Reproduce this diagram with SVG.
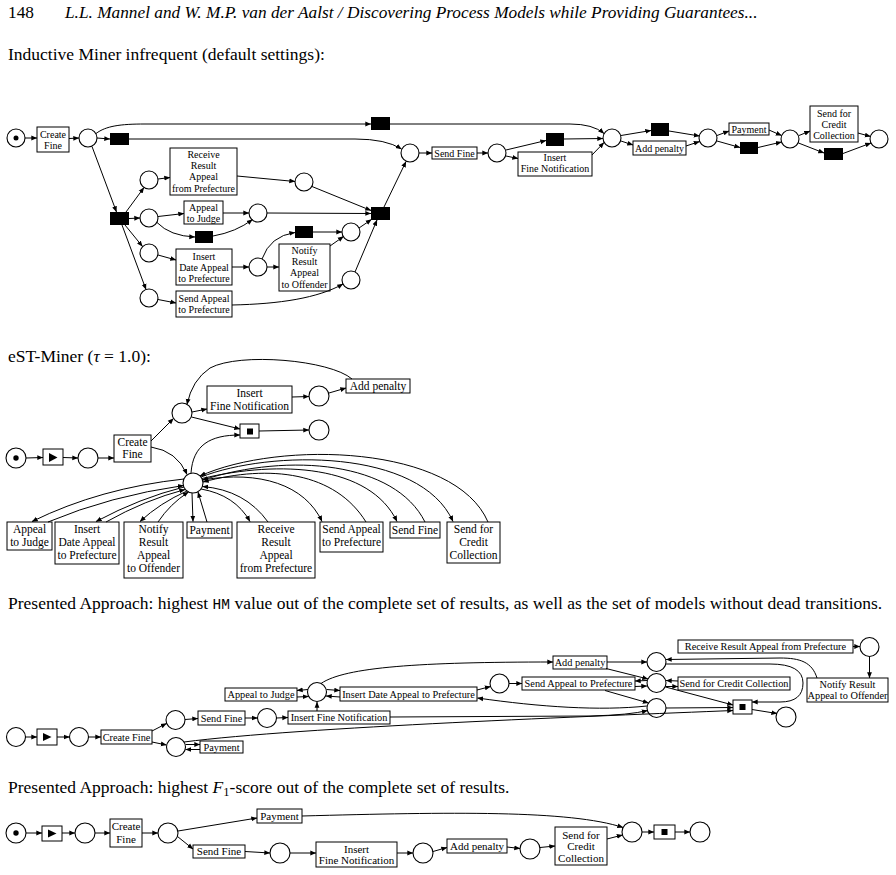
<svg xmlns="http://www.w3.org/2000/svg" width="896" height="875" viewBox="0 0 896 875">
<defs>
<marker id="a" viewBox="0 0 10 10" refX="9.5" refY="5" markerWidth="6" markerHeight="6" markerUnits="userSpaceOnUse" orient="auto"><path d="M0,1 L10,5 L0,9z" fill="#000"/></marker>
</defs>
<style>
.p{fill:#fff;stroke:#000;stroke-width:1.1}
.t{fill:#fff;stroke:#000;stroke-width:1}
.s{fill:#000}
.e path{fill:none;stroke:#000;stroke-width:1;marker-end:url(#a)}
text{font-family:"Liberation Serif","Times New Roman",serif;fill:#000}
.l1{font-size:10px;text-anchor:middle}
.l2{font-size:11.5px;text-anchor:middle}
.l3{font-size:10.3px;text-anchor:middle}
.l4{font-size:11px;text-anchor:middle}
.h{font-size:17.5px}
.hd{font-size:17.3px}
</style>
<rect width="896" height="875" fill="#fff"/>

<g id="titles">
<text class="hd" x="8" y="18">148</text>
<text class="hd" x="65" y="18" font-style="italic">L.L. Mannel and W. M.P. van der Aalst / Discovering Process Models while Providing Guarantees...</text>
<text class="h" x="8" y="60">Inductive Miner infrequent (default settings):</text>
<text class="h" x="8" y="362">eST-Miner (<tspan font-style="italic">τ</tspan> = 1.0):</text>
<text class="h" x="8" y="609">Presented Approach: highest <tspan font-family="'Liberation Mono',monospace" font-size="14.5">HM</tspan> value out of the complete set of results, as well as the set of models without dead transitions.</text>
<text class="h" x="8" y="793">Presented Approach: highest <tspan font-style="italic">F</tspan><tspan font-size="12.5" dy="3">1</tspan><tspan dy="-3">-score out of the complete set of results.</tspan></text>
</g>

<!-- Section 1: Inductive Miner -->
<g id="im-start"><circle class="p" cx="16" cy="138" r="9"/><circle cx="16" cy="138" r="2.5"/></g>
<g id="im-create-fine"><rect class="t" x="37" y="127" width="32" height="25"/><text class="l1" x="53" y="137.5">Create</text><text class="l1" x="53" y="148.5">Fine</text></g>
<g id="im-p1"><circle class="p" cx="88" cy="138" r="9"/></g>
<g id="im-tau1"><rect class="s" x="110" y="133" width="19" height="12"/></g>
<g id="im-tau-top"><rect class="s" x="371" y="117" width="19" height="13"/></g>
<g id="im-tau-split"><rect class="s" x="110" y="212" width="19" height="13"/></g>
<g id="im-pA"><circle class="p" cx="149" cy="180" r="9"/></g>
<g id="im-pB"><circle class="p" cx="149" cy="218" r="9"/></g>
<g id="im-pC"><circle class="p" cx="149" cy="253" r="9"/></g>
<g id="im-pD"><circle class="p" cx="149" cy="298" r="9"/></g>
<g id="im-receive"><rect class="t" x="170" y="148" width="67" height="47"/><text class="l1" x="203.5" y="158">Receive</text><text class="l1" x="203.5" y="169">Result</text><text class="l1" x="203.5" y="180">Appeal</text><text class="l1" x="203.5" y="191.5">from Prefecture</text></g>
<g id="im-pR"><circle class="p" cx="304" cy="182" r="9"/></g>
<g id="im-judge"><rect class="t" x="184" y="201" width="39" height="23"/><text class="l1" x="203.5" y="211">Appeal</text><text class="l1" x="203.5" y="221.5">to Judge</text></g>
<g id="im-tau-judge"><rect class="s" x="195" y="231" width="18" height="12"/></g>
<g id="im-pJ"><circle class="p" cx="258" cy="213" r="9"/></g>
<g id="im-insert-date"><rect class="t" x="176" y="249" width="56" height="36"/><text class="l1" x="204" y="259.5">Insert</text><text class="l1" x="204" y="270.5">Date Appeal</text><text class="l1" x="204" y="281.5">to Prefecture</text></g>
<g id="im-pI"><circle class="p" cx="258" cy="267" r="9"/></g>
<g id="im-tau-notify"><rect class="s" x="295" y="226" width="18" height="12"/></g>
<g id="im-notify"><rect class="t" x="279" y="244" width="51" height="47"/><text class="l1" x="304.5" y="254">Notify</text><text class="l1" x="304.5" y="265">Result</text><text class="l1" x="304.5" y="276">Appeal</text><text class="l1" x="304.5" y="287.5">to Offender</text></g>
<g id="im-pN"><circle class="p" cx="351" cy="232" r="9"/></g>
<g id="im-send-appeal"><rect class="t" x="176" y="291" width="56" height="26"/><text class="l1" x="204" y="301.5">Send Appeal</text><text class="l1" x="204" y="312.5">to Prefecture</text></g>
<g id="im-pS"><circle class="p" cx="351" cy="280" r="9"/></g>
<g id="im-tau-join"><rect class="s" x="371" y="207" width="19" height="13"/></g>
<g id="im-p-sf"><circle class="p" cx="410" cy="153" r="9"/></g>
<g id="im-send-fine"><rect class="t" x="432" y="147" width="45" height="12"/><text class="l1" x="454.5" y="156.5">Send Fine</text></g>
<g id="im-p-b"><circle class="p" cx="497" cy="153" r="9"/></g>
<g id="im-tau-ifn"><rect class="s" x="546" y="133" width="18" height="13"/></g>
<g id="im-ifn"><rect class="t" x="518" y="152" width="74" height="24"/><text class="l1" x="555" y="161">Insert</text><text class="l1" x="555" y="172">Fine Notification</text></g>
<g id="im-p-c"><circle class="p" cx="612" cy="138" r="9"/></g>
<g id="im-tau-ap"><rect class="s" x="651" y="123" width="18" height="13"/></g>
<g id="im-add-penalty"><rect class="t" x="633" y="141" width="53" height="14"/><text class="l1" x="659.5" y="151.5">Add penalty</text></g>
<g id="im-p-d"><circle class="p" cx="708" cy="138" r="9"/></g>
<g id="im-payment"><rect class="t" x="729" y="123" width="40" height="12"/><text class="l1" x="749" y="132.5">Payment</text></g>
<g id="im-tau-pay"><rect class="s" x="740" y="142" width="18" height="12"/></g>
<g id="im-p-e"><circle class="p" cx="790" cy="139" r="9"/></g>
<g id="im-credit"><rect class="t" x="810" y="106" width="48" height="36"/><text class="l1" x="834" y="116.5">Send for</text><text class="l1" x="834" y="127.5">Credit</text><text class="l1" x="834" y="138.5">Collection</text></g>
<g id="im-tau-credit"><rect class="s" x="824" y="148" width="19" height="12"/></g>
<g id="im-end"><circle class="p" cx="879" cy="139" r="9"/></g>

<!-- Section 2: eST-Miner -->
<g id="est-start"><circle class="p" cx="16" cy="458" r="10"/><circle cx="16" cy="458" r="2.7"/></g>
<g id="est-play"><rect class="t" x="43" y="449" width="20" height="16"/><path d="M49,453 L57.5,457.5 L49,462z" fill="#000"/></g>
<g id="est-p1"><circle class="p" cx="88" cy="458" r="10"/></g>
<g id="est-create-fine"><rect class="t" x="114" y="435" width="37" height="27"/><text class="l2" x="132.5" y="445.5">Create</text><text class="l2" x="132.5" y="457.5">Fine</text></g>
<g id="est-ptop"><circle class="p" cx="182" cy="413" r="10"/></g>
<g id="est-ifn"><rect class="t" x="207" y="386" width="85" height="27"/><text class="l2" x="249.5" y="397">Insert</text><text class="l2" x="249.5" y="410">Fine Notification</text></g>
<g id="est-pifn"><circle class="p" cx="319" cy="396" r="10"/></g>
<g id="est-add-penalty"><rect class="t" x="346" y="379" width="64" height="14"/><text class="l2" x="378" y="390">Add penalty</text></g>
<g id="est-stop"><rect class="t" x="240" y="424" width="19" height="14"/><rect class="s" x="247" y="428.5" width="6" height="6"/></g>
<g id="est-pend"><circle class="p" cx="319" cy="430" r="10"/></g>
<g id="est-pbig"><circle class="p" cx="193" cy="483" r="10"/></g>
<g id="est-judge"><rect class="t" x="7" y="522" width="45" height="28"/><text class="l2" x="29.5" y="533">Appeal</text><text class="l2" x="29.5" y="546">to Judge</text></g>
<g id="est-insert-date"><rect class="t" x="55" y="522" width="64" height="42"/><text class="l2" x="87" y="533">Insert</text><text class="l2" x="87" y="546">Date Appeal</text><text class="l2" x="87" y="559">to Prefecture</text></g>
<g id="est-notify"><rect class="t" x="124" y="522" width="59" height="56"/><text class="l2" x="153.5" y="533">Notify</text><text class="l2" x="153.5" y="546">Result</text><text class="l2" x="153.5" y="559">Appeal</text><text class="l2" x="153.5" y="572">to Offender</text></g>
<g id="est-payment"><rect class="t" x="187" y="522" width="45" height="16"/><text class="l2" x="209.5" y="534">Payment</text></g>
<g id="est-receive"><rect class="t" x="237" y="522" width="78" height="56"/><text class="l2" x="276" y="533">Receive</text><text class="l2" x="276" y="546">Result</text><text class="l2" x="276" y="559">Appeal</text><text class="l2" x="276" y="572">from Prefecture</text></g>
<g id="est-send-appeal"><rect class="t" x="320" y="522" width="63" height="30"/><text class="l2" x="351.5" y="533">Send Appeal</text><text class="l2" x="351.5" y="546">to Prefecture</text></g>
<g id="est-send-fine"><rect class="t" x="390" y="522" width="50" height="16"/><text class="l2" x="415" y="534">Send Fine</text></g>
<g id="est-credit"><rect class="t" x="447" y="522" width="53" height="41"/><text class="l2" x="473.5" y="533">Send for</text><text class="l2" x="473.5" y="546">Credit</text><text class="l2" x="473.5" y="559">Collection</text></g>

<!-- Section 3: HM -->
<g id="hm-start"><circle class="p" cx="16" cy="737" r="9.5"/></g>
<g id="hm-play"><rect class="t" x="37" y="729" width="20" height="16"/><path d="M43,733 L51.5,737 L43,741z" fill="#000"/></g>
<g id="hm-p1"><circle class="p" cx="79" cy="737" r="9.5"/></g>
<g id="hm-create-fine"><rect class="t" x="101" y="730" width="51" height="14"/><text class="l3" x="126.5" y="740.5">Create Fine</text></g>
<g id="hm-psf"><circle class="p" cx="175.5" cy="720" r="9.5"/></g>
<g id="hm-ppay"><circle class="p" cx="176" cy="747" r="9.5"/></g>
<g id="hm-payment"><rect class="t" x="200" y="741" width="43" height="12"/><text class="l3" x="221.5" y="750.5">Payment</text></g>
<g id="hm-send-fine"><rect class="t" x="198" y="711" width="47" height="14"/><text class="l3" x="221.5" y="721.5">Send Fine</text></g>
<g id="hm-pifn"><circle class="p" cx="267" cy="718" r="9.5"/></g>
<g id="hm-ifn"><rect class="t" x="288" y="711" width="102" height="13"/><text class="l3" x="339" y="721">Insert Fine Notification</text></g>
<g id="hm-ploop"><circle class="p" cx="317" cy="692" r="9.5"/></g>
<g id="hm-judge"><rect class="t" x="225" y="688" width="72" height="13"/><text class="l3" x="261" y="698">Appeal to Judge</text></g>
<g id="hm-insert-date"><rect class="t" x="340" y="687" width="137" height="14"/><text class="l3" x="408.5" y="697.5">Insert Date Appeal to Prefecture</text></g>
<g id="hm-psap"><circle class="p" cx="499.5" cy="683.5" r="9.5"/></g>
<g id="hm-send-appeal"><rect class="t" x="522" y="677" width="113" height="13"/><text class="l3" x="578.5" y="687">Send Appeal to Prefecture</text></g>
<g id="hm-add-penalty"><rect class="t" x="553" y="656" width="54" height="13"/><text class="l3" x="580" y="666">Add penalty</text></g>
<g id="hm-ptop"><circle class="p" cx="656.5" cy="662" r="9.5"/></g>
<g id="hm-pmid"><circle class="p" cx="656.5" cy="683" r="9.5"/></g>
<g id="hm-pbot"><circle class="p" cx="656.5" cy="708" r="9.5"/></g>
<g id="hm-receive"><rect class="t" x="678" y="640" width="175" height="13"/><text class="l3" x="765.5" y="650">Receive Result Appeal from Prefecture</text></g>
<g id="hm-prr"><circle class="p" cx="869.5" cy="647" r="9.5"/></g>
<g id="hm-notify"><rect class="t" x="807" y="678" width="81" height="24"/><text class="l3" x="847.5" y="688">Notify Result</text><text class="l3" x="847.5" y="698.5">Appeal to Offender</text></g>
<g id="hm-credit"><rect class="t" x="678" y="677" width="112" height="13"/><text class="l3" x="734" y="687">Send for Credit Collection</text></g>
<g id="hm-stop"><rect class="t" x="733" y="700" width="19" height="14"/><rect class="s" x="739.5" y="704" width="6" height="6"/></g>
<g id="hm-end"><circle class="p" cx="786" cy="717" r="10"/></g>

<!-- Section 4: F1 -->
<g id="f1-start"><circle class="p" cx="16" cy="833" r="10"/><circle cx="16" cy="833" r="2.7"/></g>
<g id="f1-play"><rect class="t" x="42" y="826" width="20" height="15"/><path d="M48,829.5 L56.5,833.5 L48,837.5z" fill="#000"/></g>
<g id="f1-p1"><circle class="p" cx="85" cy="833" r="10"/></g>
<g id="f1-create-fine"><rect class="t" x="110" y="819" width="32" height="28"/><text class="l4" x="126" y="829.5">Create</text><text class="l4" x="126" y="842.5">Fine</text></g>
<g id="f1-p2"><circle class="p" cx="168" cy="833" r="10"/></g>
<g id="f1-payment"><rect class="t" x="257" y="809" width="45" height="14"/><text class="l4" x="279.5" y="820">Payment</text></g>
<g id="f1-send-fine"><rect class="t" x="193" y="845" width="52" height="13"/><text class="l4" x="219" y="855">Send Fine</text></g>
<g id="f1-p3"><circle class="p" cx="280" cy="853" r="10"/></g>
<g id="f1-ifn"><rect class="t" x="316" y="842" width="81" height="25"/><text class="l4" x="356.5" y="852.5">Insert</text><text class="l4" x="356.5" y="864">Fine Notification</text></g>
<g id="f1-p4"><circle class="p" cx="423" cy="853" r="10"/></g>
<g id="f1-add-penalty"><rect class="t" x="447" y="839" width="60" height="14"/><text class="l4" x="477" y="850">Add penalty</text></g>
<g id="f1-p5"><circle class="p" cx="530" cy="849" r="10"/></g>
<g id="f1-credit"><rect class="t" x="555" y="827" width="52" height="38"/><text class="l4" x="581" y="838.5">Send for</text><text class="l4" x="581" y="850">Credit</text><text class="l4" x="581" y="861.5">Collection</text></g>
<g id="f1-p6"><circle class="p" cx="632" cy="832" r="10"/></g>
<g id="f1-stop"><rect class="t" x="654" y="825" width="21" height="14"/><rect class="s" x="661.5" y="829" width="6" height="6"/></g>
<g id="f1-end"><circle class="p" cx="700" cy="832" r="10"/></g>

<g id="edges" class="e">
<!-- section 1 -->
<path d="M25,138 L37,138"/>
<path d="M69,138.5 L79,138"/>
<path d="M97,138 L110,139"/>
<path d="M129,139 L355,139 Q386,139 401.5,149"/>
<path d="M96,133.5 C106,126 120,124 145,124 L371,124"/>
<path d="M390,124 L570,124 Q593,124 604,133.5"/>
<path d="M92,146.5 L116.5,212"/>
<path d="M126,212 L144,187.5"/>
<path d="M129,218.5 L140,218"/>
<path d="M125,225 L142.5,246.5"/>
<path d="M122,225 L146,289.5"/>
<path d="M158,179 L170,177.5"/>
<path d="M237,176 L295,181.5"/>
<path d="M312,186.5 L371,210.5"/>
<path d="M158,216.5 L184,213.5"/>
<path d="M223,213 L249,213"/>
<path d="M157,222.5 Q170,236 195,237"/>
<path d="M213,236 Q236,232 252.5,219.5"/>
<path d="M267,213 L371,213.5"/>
<path d="M158,255 L176,260"/>
<path d="M232,267 L249,267"/>
<path d="M267,267 L279,267"/>
<path d="M262,259 Q270,236 295,232.5"/>
<path d="M313,232 L342,232"/>
<path d="M330,246 L343.5,236.5"/>
<path d="M359,228 L371.5,219.5"/>
<path d="M158,299.5 L176,303"/>
<path d="M232,305 C280,304 318,298 343,284"/>
<path d="M355,272 L377,220"/>
<path d="M384,207 L406,161.5"/>
<path d="M419,153 L432,153"/>
<path d="M477,153 L488,153"/>
<path d="M506,150 L546,140.5"/>
<path d="M506,156 L518,158.5"/>
<path d="M564,139 L603,138.5"/>
<path d="M592,155 L604,142.5"/>
<path d="M621,135.5 L651,130.5"/>
<path d="M621,141 L633,145"/>
<path d="M669,131 L699.5,136"/>
<path d="M686,146 L699.5,141.5"/>
<path d="M717,135.5 L729,131"/>
<path d="M717,141 L740,147.5"/>
<path d="M769,130 L781.5,135.5"/>
<path d="M758,147.5 L781.5,142"/>
<path d="M799,135.5 L810,131"/>
<path d="M798.5,143 L824,153"/>
<path d="M858,133 L870.5,136.5"/>
<path d="M843,153.5 L871,143"/>
<!-- section 2 -->
<path d="M26,458 L43,457.5"/>
<path d="M63,457.5 L78,458"/>
<path d="M98,458 L114,458"/>
<path d="M151,441 L173.5,418.5"/>
<path d="M151,447 Q177,451 187,474.5"/>
<path d="M192,412 L207,409"/>
<path d="M191.5,417 L240,429"/>
<path d="M292,397 L309,396.5"/>
<path d="M329,393 L346,388"/>
<path d="M352,379 C330,360 240,352 210,368 Q192,380 187,404.5"/>
<path d="M259,431 L309,430"/>
<path d="M191,473 C193,445 210,435 240,435"/>
<path d="M184,479 Q100,488 32,521.5"/>
<path d="M48,522 Q110,496 183.5,485.5"/>
<path d="M184,487 Q140,498 96,521.5"/>
<path d="M106,522 Q145,500 185,489.5"/>
<path d="M187,491 Q160,503 140,521.5"/>
<path d="M158,522 Q170,504 188.5,492"/>
<path d="M192,493 L193,521.5"/>
<path d="M207,522 L198,492"/>
<path d="M201,489 Q235,495 250,521.5"/>
<path d="M268,522 Q245,490 202.5,486.5"/>
<path d="M202.5,480 C260,470 305,485 322,521.5"/>
<path d="M366,522 C335,472 270,464 203,482"/>
<path d="M202,478.5 C280,460 370,465 397,521.5"/>
<path d="M425,522 C395,462 290,452 202.5,480"/>
<path d="M201,477 C270,450 420,448 453,521.5"/>
<path d="M488,522 C455,445 280,440 200,476"/>
<!-- section 3 -->
<path d="M25.5,737 L37,737"/>
<path d="M57,737 L69.5,737"/>
<path d="M88.5,737 L101,737"/>
<path d="M152,731 L166.5,723.5"/>
<path d="M152,742 L166.5,745"/>
<path d="M185,719.5 L198,718.5"/>
<path d="M245,718 L257.5,718"/>
<path d="M276.5,718 L288,717.5"/>
<path d="M317,711 L317,702"/>
<path d="M308,689.5 L297,690.5"/>
<path d="M297,697 L308.5,696.5"/>
<path d="M326.5,689.5 L340,690.5"/>
<path d="M340,697 L326,696"/>
<path d="M321,683.5 C345,667 420,662 553,662"/>
<path d="M477,690 L490.5,686.5"/>
<path d="M509,683.5 L522,683.5"/>
<path d="M647,680.5 L635,681"/>
<path d="M635,686.5 L647,686"/>
<path d="M678,681 L666,680.5"/>
<path d="M666,686.5 L678,686.5"/>
<path d="M607,662 L647,662"/>
<path d="M606,668.5 L648,679"/>
<path d="M605,690.5 L648.5,703"/>
<path d="M665.5,687 L733,705"/>
<path d="M666,708 L733,707.5"/>
<path d="M752,709.5 L777,713.5"/>
<path d="M666,664 L770,664 Q803,664 803,683 Q803,702 780,702 L752,702"/>
<path d="M817,678 C812,662 800,658 780,658 L666,659.5"/>
<path d="M853,646.5 L860,646.5"/>
<path d="M869.5,656.5 L869.5,678"/>
<path d="M185.5,744.5 L200,744.5"/>
<path d="M200,749.5 L185.5,749.5"/>
<path d="M184,742 C300,727 600,716 733,710.5"/>
<path d="M390,717 L590,716 Q630,715 647.5,710.5"/>
<path d="M647,706 C600,711 540,707 477.5,698"/>
<!-- section 4 -->
<path d="M26,833 L42,833"/>
<path d="M62,833 L75,833"/>
<path d="M95,833 L110,833"/>
<path d="M142,833 L158,833"/>
<path d="M178,831 L257,818"/>
<path d="M177.5,836.5 L193,849"/>
<path d="M302,816 C450,812 570,810 623,827.5"/>
<path d="M245,851.5 L270,853"/>
<path d="M290,853 L316,853"/>
<path d="M397,853 L413,853"/>
<path d="M433,851.5 L447,847.5"/>
<path d="M507,847 L520,848.5"/>
<path d="M540,847.5 L555,846"/>
<path d="M607,839 L622.5,835"/>
<path d="M642,832 L654,832"/>
<path d="M675,832 L690,832"/>
</g>
</svg>
